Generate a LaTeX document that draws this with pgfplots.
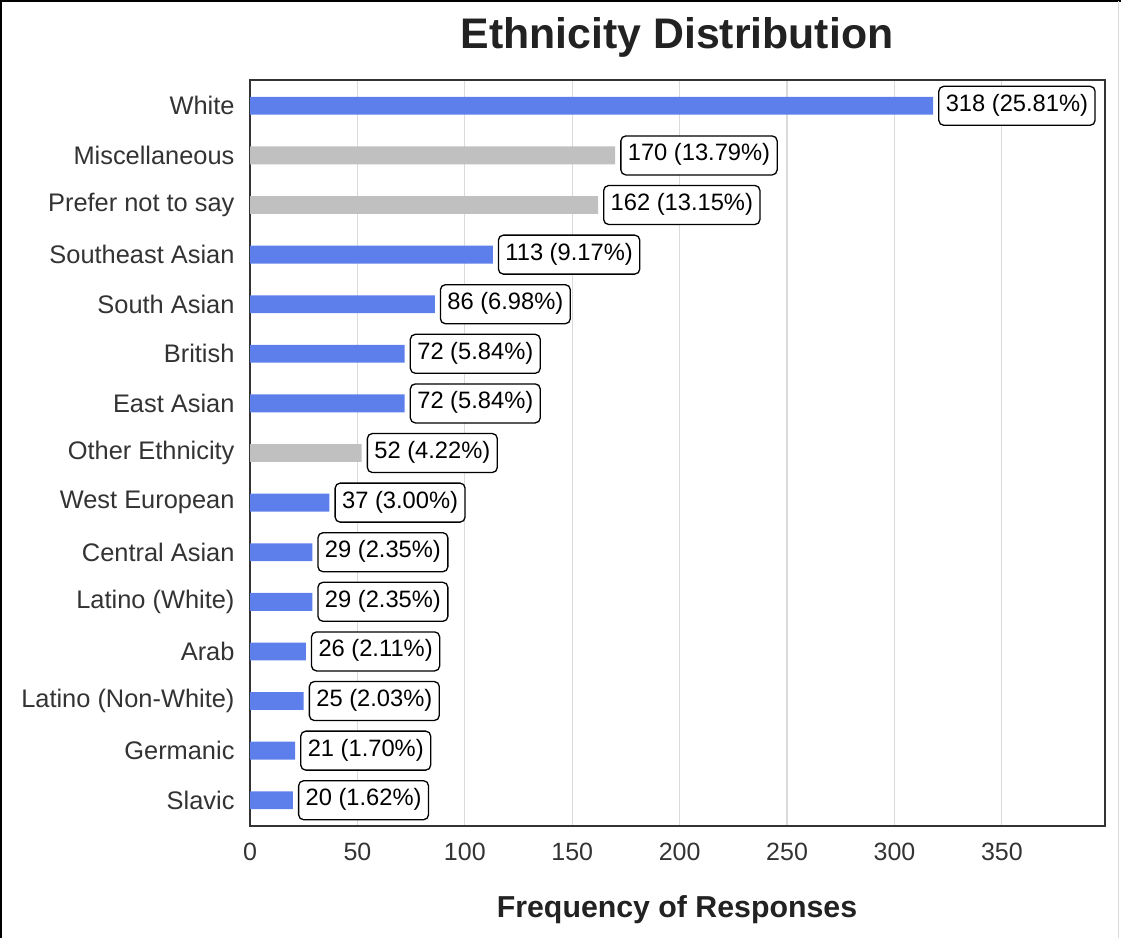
\documentclass[border=0pt]{standalone}
\usepackage{pgfplots}
\pgfplotsset{compat=1.18}
\usepackage{fontspec}
\setmainfont{Liberation Sans}
\definecolor{barblue}{HTML}{5C7FEC}
\definecolor{bargray}{HTML}{C0C0C0}
\definecolor{textdark}{HTML}{333333}
\definecolor{titledark}{HTML}{222222}
\definecolor{gridgray}{HTML}{DADADA}
\begin{document}
\begin{tikzpicture}[x=1pt,y=1pt]
\path[use as bounding box] (0,0) rectangle (1121,-938);
% frame around the figure
\draw[black,line width=2pt] (1,-938) -- (1,-1) -- (1121,-1);
\draw[gridgray,line width=1.5pt] (1118.5,-1) -- (1118.5,-938);
\begin{axis}[
  at={(250pt,-826pt)}, anchor=south west,
  scale only axis, width=855pt, height=746pt,
  xbar, bar width=0.36, bar shift=0pt,
  xmin=0, xmax=398,
  ymin=-0.52, ymax=14.52, y dir=reverse,
  ytick={0,...,14},
  yticklabels={White,Miscellaneous,Prefer not to say,Southeast Asian,South Asian,British,East Asian,Other Ethnicity,West European,Central Asian,Latino (White),Arab,Latino (Non-White),Germanic,Slavic},
  xtick={0,50,...,350},
  major tick length=0pt,
  xmajorgrids, ymajorgrids=false,
  grid style={gridgray, line width=1.2pt},
  axis line style={textdark, line width=2.5pt},
  /pgf/number format/assume math mode=true,
  xticklabel style={font=\fontsize{25}{29}\selectfont, text=textdark, yshift=-13pt},
  yticklabel style={font=\fontsize{25.4}{29}\selectfont, text=textdark, xshift=-12pt},
  point meta=explicit symbolic,
  nodes near coords,
  every node near coord/.append style={anchor=west, xshift=5pt, draw=black, line width=1.3pt,
    rounded corners=5pt, fill=white, text=black, font=\fontsize{23.7}{27}\selectfont,
    inner xsep=7pt, inner ysep=8pt, text height=17pt, text depth=6pt},
  clip=false,
]
\addplot[fill=barblue, draw=none] table[col sep=comma, x=x, y=y, meta=label] {
y,x,label
0,318,318 (25.81\%)
3,113,113 (9.17\%)
4,86,86 (6.98\%)
5,72,72 (5.84\%)
6,72,72 (5.84\%)
8,37,37 (3.00\%)
9,29,29 (2.35\%)
10,29,29 (2.35\%)
11,26,26 (2.11\%)
12,25,25 (2.03\%)
13,21,21 (1.70\%)
14,20,20 (1.62\%)
};
\addplot[fill=bargray, draw=none] table[col sep=comma, x=x, y=y, meta=label] {
y,x,label
1,170,170 (13.79\%)
2,162,162 (13.15\%)
7,52,52 (4.22\%)
};
\end{axis}
\node[anchor=base, font=\bfseries\fontsize{42.8}{48}\selectfont, text=titledark] at (677,-48) {Ethnicity Distribution};
\node[anchor=base, font=\bfseries\fontsize{30.3}{34}\selectfont, text=titledark] at (677,-917) {Frequency of Responses};
\end{tikzpicture}
\end{document}
